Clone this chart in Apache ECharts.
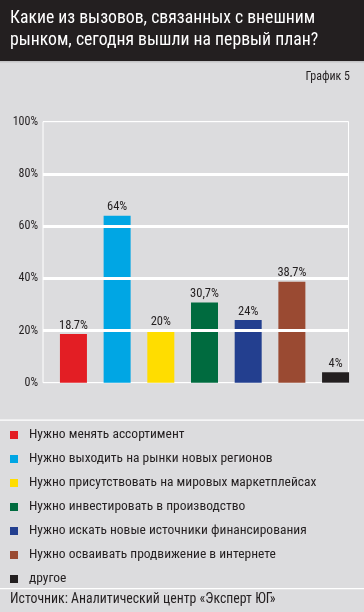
<!DOCTYPE html>
<html><head><meta charset="utf-8">
<script src="https://cdn.jsdelivr.net/npm/echarts@6/dist/echarts.min.js"></script>
<style>html,body{margin:0;padding:0;background:#dcdcde}#c{width:364px;height:612px}</style>
</head><body><div id="c"></div>
<script>
const categories = [
  'Нужно менять ассортимент',
  'Нужно выходить на рынки новых регионов',
  'Нужно присутствовать на мировых маркетплейсах',
  'Нужно инвестировать в производство',
  'Нужно искать новые источники финансирования',
  'Нужно осваивать продвижение в интернете',
  'другое'
];
const values = [18.7, 64, 20, 30.7, 24, 38.7, 4];
const colors = ['#e31e24', '#00a6e4', '#ffdd00', '#006b3f', '#233f8f', '#9a4a32', '#231f20'];
const yTicks = [0, 20, 40, 60, 80, 100];
const titleText = 'Какие из вызовов, связанных с внешним\nрынком, сегодня вышли на первый план?';
const chartNo = 'График 5';
const sourceText = 'Источник: Аналитический центр «Эксперт ЮГ»';

const NARROW = '"Roboto Condensed", "Liberation Sans", sans-serif';

function draw() {
  const chart = echarts.init(document.getElementById('c'));
  const barSeries = categories.map((name, i) => ({
    name: name,
    type: 'bar',
    stack: 'all',
    z: 3,
    xAxisIndex: 1,
    yAxisIndex: 1,
    barWidth: 27,
    itemStyle: { color: colors[i] },
    label: {
      show: true, position: 'top', distance: 2,
      fontFamily: NARROW, fontSize: 12.5, color: '#231f20',
      formatter: p => String(p.value).replace('.', ',') + '%'
    },
    data: categories.map((c, j) => j === i ? values[i] : '-')
  }));

  chart.setOption({
    backgroundColor: '#dcdcde',
    animation: false,
    graphic: [
      { type: 'rect', shape: { x: 0, y: 0, width: 364, height: 61 }, style: { fill: '#231f20' }, z: 0 },
      { type: 'rect', shape: { x: 0, y: 61, width: 364, height: 1.5 }, style: { fill: '#c4c4c6' }, z: 0 },
      { type: 'rect', shape: { x: 0, y: 419.5, width: 364, height: 1.2 }, style: { fill: '#ffffff' }, z: 0 },
      { type: 'rect', shape: { x: 0, y: 588, width: 364, height: 1.2 }, style: { fill: '#ffffff' }, z: 0 },
      { type: 'text', left: 10, top: 593, style: { text: sourceText, fontFamily: NARROW, fontSize: 13.8, fill: '#231f20' }, z: 5 }
    ],
    title: [
      { text: titleText, left: 10, top: 8, padding: 0, textStyle: { color: '#ffffff', fontFamily: NARROW, fontWeight: 'normal', fontSize: 17.7, lineHeight: 22 } },
      { text: chartNo, right: 14, top: 71, padding: 0, textStyle: { color: '#231f20', fontFamily: NARROW, fontWeight: 'normal', fontSize: 12 } }
    ],
    legend: {
      orient: 'vertical', left: 10, top: 427, padding: 0,
      itemWidth: 8, itemHeight: 8, itemGap: 8, icon: 'rect',
      data: categories,
      textStyle: { fontFamily: NARROW, fontSize: 13.5, lineHeight: 16, color: '#231f20', padding: [0, 0, 0, 6] },
      selectedMode: false
    },
    grid: [
      { left: 43, right: 15.5, top: 121.7, bottom: 229.3, show: true, borderColor: '#ffffff', borderWidth: 1, backgroundColor: 'transparent' },
      { left: 51.6, right: 6.6, top: 121.7, bottom: 229.3 }
    ],
    xAxis: [
      { type: 'value', gridIndex: 0, min: 0, max: 1, show: false },
      { type: 'category', gridIndex: 1, data: categories, show: false }
    ],
    yAxis: [
      { type: 'value', gridIndex: 0, min: 0, max: 100, interval: 20,
        axisLine: { show: false }, axisTick: { show: false },
        axisLabel: { formatter: v => v + '%', color: '#231f20', fontFamily: NARROW, fontSize: 12, margin: 5 },
        splitLine: { show: true, lineStyle: { color: '#ffffff', width: 1 } } },
      { type: 'value', gridIndex: 1, min: 0, max: 100, show: false }
    ],
    series: [
      { type: 'line', z: 1, xAxisIndex: 0, yAxisIndex: 0, data: [], silent: true,
        markLine: { silent: true, symbol: 'none', label: { show: false },
          lineStyle: { color: '#ffffff', width: 3, type: 'solid' },
          data: yTicks.filter(t => t > 0 && t < 100).map(t => ({ yAxis: t })) } }
    ].concat(barSeries)
  });
}
(document.fonts ? document.fonts.load('14px "Roboto Condensed"', 'Нужно').catch(() => null) : Promise.resolve()).then(draw);
</script></body></html>
